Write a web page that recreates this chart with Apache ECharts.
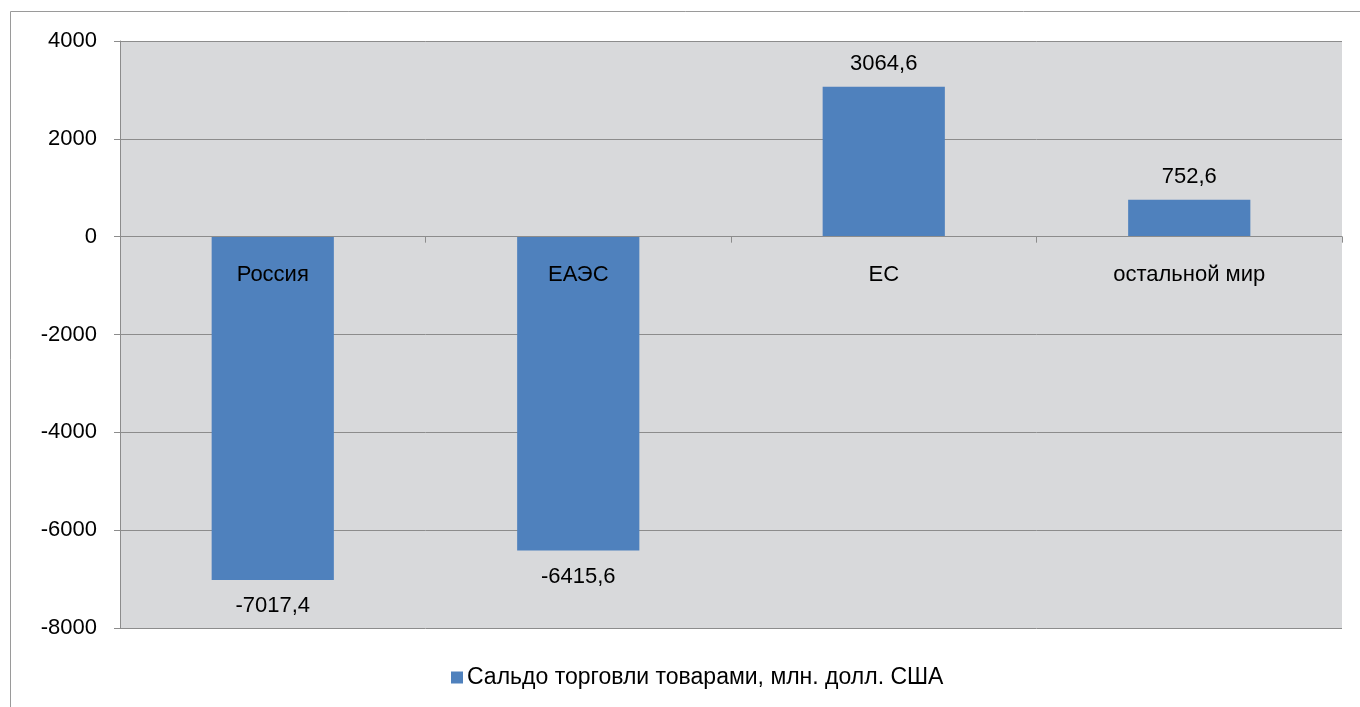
<!DOCTYPE html>
<html>
<head>
<meta charset="utf-8">
<script src="https://cdn.jsdelivr.net/npm/echarts@6/dist/echarts.min.js"></script>
<style>
  html, body { margin: 0; padding: 0; background: #fff; }
  #chartOne { width: 1360px; height: 707px; }
</style>
</head>
<body>
<div id="chartOne"></div>
<script>
// данные
const categories = ['Россия', 'ЕАЭС', 'ЕС', 'остальной мир']
const balance = [-7017.4, -6415.6, 3064.6, 752.6]
const seriesName = 'Сальдо торговли товарами, млн. долл. США'
const yTicks = { min: -8000, max: 4000, step: 2000 }

const font = '"Liberation Sans", Arial, sans-serif'
const fontSize = 22
const gridColor = '#8c8c8c'
const gridTop = 41
const gridBottom = 79
const plotHeight = 707 - gridTop - gridBottom
// сдвиг оси категорий на уровень нуля
const zeroOffset = plotHeight * (0 - yTicks.min) / (yTicks.max - yTicks.min)

var myChart = echarts.init(document.getElementById('chartOne'))
const option = {
  backgroundColor: '#fff',
  animation: false,
  textStyle: { fontFamily: font },
  graphic: [
    {
      // рамка диаграммы
      type: 'rect',
      shape: { x: 10.5, y: 11.5, width: 1400, height: 720 },
      style: { fill: 'none', stroke: '#9a9a9a', lineWidth: 1 },
      silent: true
    }
  ],
  grid: {
    left: 120,
    right: 18,
    top: gridTop,
    bottom: gridBottom,
    show: true,
    backgroundColor: '#d8d9db',
    borderWidth: 0
  },
  legend: {
    data: [seriesName],
    bottom: 13,
    left: 446,
    icon: 'rect',
    itemWidth: 12,
    itemHeight: 12,
    itemGap: 4,
    textStyle: { color: '#000', fontSize: 23, fontFamily: font, padding: [0, 0, 0, -1] }
  },
  xAxis: {
    type: 'category',
    data: categories,
    position: 'bottom',
    offset: -zeroOffset,
    z: 5,
    axisLine: { onZero: false, lineStyle: { color: gridColor, width: 1 } },
    axisTick: { show: true, length: 6, lineStyle: { color: gridColor } },
    axisLabel: { color: '#000', fontSize: fontSize, margin: 27, fontFamily: font },
    splitLine: { show: false }
  },
  yAxis: {
    type: 'value',
    min: yTicks.min,
    max: yTicks.max,
    interval: yTicks.step,
    axisLine: { show: true, lineStyle: { color: gridColor } },
    axisTick: { show: true, length: 6, lineStyle: { color: gridColor } },
    axisLabel: {
      color: '#000',
      fontSize: fontSize,
      margin: 23,
      fontFamily: font,
      formatter: v => String(v)
    },
    splitLine: { show: true, lineStyle: { color: gridColor, width: 1 } }
  },
  series: [
    {
      name: seriesName,
      type: 'bar',
      barWidth: '40%',
      itemStyle: { color: '#4f81bd' },
      data: balance.map(v => ({
        value: v,
        label: { position: v < 0 ? 'bottom' : 'top', distance: v < 0 ? 15 : 12 }
      })),
      label: {
        show: true,
        color: '#000',
        fontSize: fontSize,
        fontFamily: font,
        formatter: p => String(p.value).replace('.', ',')
      }
    }
  ]
}
myChart.setOption(option)
window.onresize = function () {
  myChart.resize()
}
</script>
</body>
</html>
